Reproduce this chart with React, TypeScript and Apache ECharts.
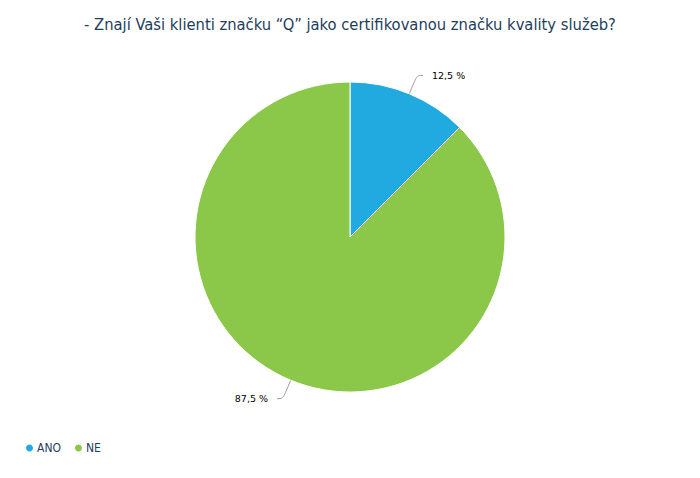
import React, { useEffect, useRef } from 'react';
import * as echarts from 'echarts';

const categories = ['ANO', 'NE'];
const values = [12.5, 87.5];
const colors = ['#20aae0', '#8bc749'];
const titleText = '- Znají Vaši klienti značku “Q” jako certifikovanou značku kvality služeb?';

const App: React.FC = () => {
  const chartRef = useRef<HTMLDivElement>(null);

  useEffect(() => {
    document.body.style.margin = '0';
    if (!chartRef.current) return;
    const chart = echarts.init(chartRef.current, undefined, { renderer: 'svg' });

    const option: echarts.EChartsOption = {
      animation: false,
      backgroundColor: '#ffffff',
      title: {
        text: titleText,
        left: 'center',
        top: 11,
        textStyle: {
          fontFamily: 'DejaVu Sans Condensed',
          fontSize: 16.4,
          fontWeight: 'normal',
          color: '#1e3d5c'
        }
      },
      legend: {
        left: 19,
        top: 437,
        icon: 'circle',
        itemWidth: 9,
        itemHeight: 9,
        itemGap: 12,
        textStyle: {
          fontFamily: 'DejaVu Sans Condensed',
          fontSize: 12,
          color: '#1e3d5c',
          padding: [0, 0, 0, -2]
        },
        data: categories
      },
      series: [
        {
          type: 'pie',
          center: [350, 237],
          radius: [0, 155],
          startAngle: 90,
          clockwise: true,
          itemStyle: {
            borderColor: '#ffffff',
            borderWidth: 1
          },
          label: {
            formatter: (p: any) => `${String(p.value).replace('.', ',')} %`,
            fontFamily: 'DejaVu Sans',
            fontSize: 9.5,
            color: '#000000',
            distanceToLabelLine: 9
          },
          labelLine: {
            length: 20,
            length2: 6,
            smooth: 0.4,
            lineStyle: { color: '#999999', width: 1 }
          },
          emphasis: { disabled: true },
          data: categories.map((name, i) => ({
            name,
            value: values[i],
            itemStyle: { color: colors[i] }
          }))
        }
      ]
    };

    chart.setOption(option);
    return () => {
      chart.dispose();
    };
  }, []);

  return <div ref={chartRef} style={{ width: '700px', height: '478px' }} />;
};

export default App;
